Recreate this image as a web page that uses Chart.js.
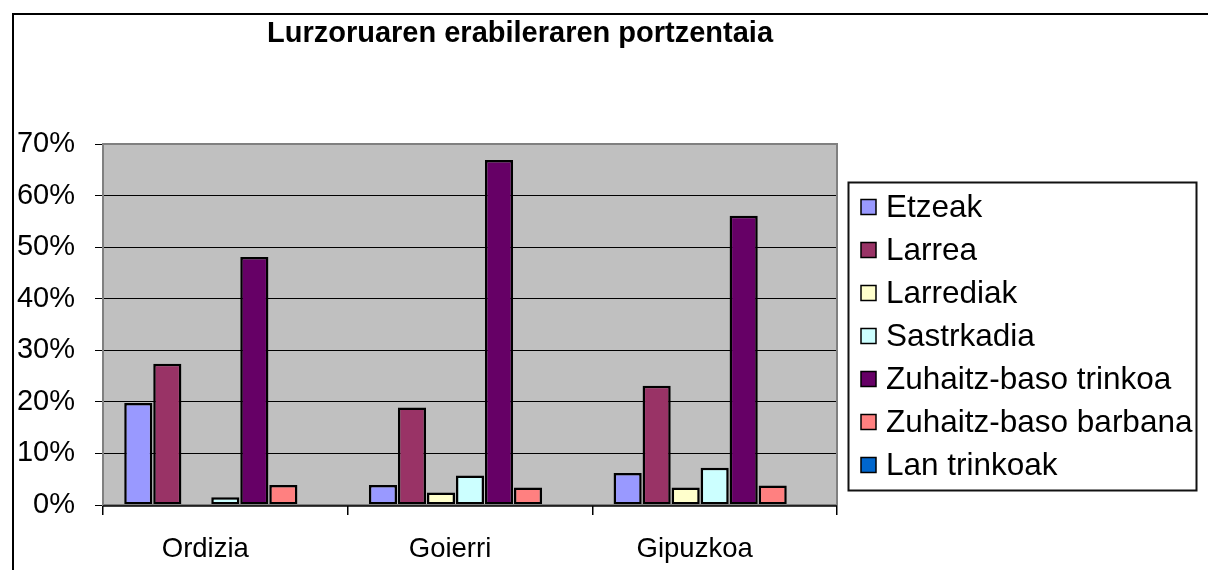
<!DOCTYPE html>
<html>
<head>
<meta charset="utf-8">
<script src="https://cdn.jsdelivr.net/npm/chart.js@4/dist/chart.umd.min.js"></script>
<style>
  html, body { margin: 0; padding: 0; background: #fff; }
  #myChart { display: block; }
</style>
</head>
<body>
<canvas id="myChart" width="1208" height="570"></canvas>
<script>
// data (percent)
const categories = ['Ordizia', 'Goierri', 'Gipuzkoa'];
const seriesNames = ['Etzeak', 'Larrea', 'Larrediak', 'Sastrkadia', 'Zuhaitz-baso trinkoa', 'Zuhaitz-baso barbana', 'Lan trinkoak'];
const etzeak = [19.8, 3.9, 6.2];
const larrea = [27.4, 18.9, 23.1];
const larrediak = [0, 2.4, 3.4];
const sastrkadia = [1.5, 5.7, 7.2];
const trinkoa = [48.1, 66.9, 56.1];
const barbana = [3.9, 3.4, 3.8];
const lanTrinkoak = [0, 0, 0];
const yTicks = [0, 10, 20, 30, 40, 50, 60, 70];
const colors = ['#9999FF', '#993366', '#FFFFCC', '#CCFFFF', '#660066', '#FF8080', '#0066CC'];
const titleText = 'Lurzoruaren erabileraren portzentaia';

const values = [etzeak, larrea, larrediak, sastrkadia, trinkoa, barbana, lanTrinkoak];
const FONT = "'Liberation Sans', Arial, sans-serif";

const datasets = values.map((v, i) => ({
  label: seriesNames[i],
  data: v,
  backgroundColor: colors[i],
  borderColor: '#000',
  borderWidth: 2.5,
  borderSkipped: false,
  categoryPercentage: 0.83,
  barPercentage: 0.97
}));

// gray plot area, outer frame, title and boxed legend
const excelLook = {
  id: 'excelLook',
  beforeDraw(chart) {
    const ctx = chart.ctx;
    const a = chart.chartArea;
    ctx.save();
    ctx.fillStyle = '#C0C0C0';
    ctx.fillRect(a.left, a.top, a.right - a.left, a.bottom - a.top);
    ctx.restore();
  },
  afterDraw(chart) {
    const ctx = chart.ctx;
    const a = chart.chartArea;
    ctx.save();
    // plot border
    ctx.strokeStyle = '#808080';
    ctx.lineWidth = 2;
    ctx.strokeRect(a.left, a.top, a.right - a.left, a.bottom - a.top);
    // x axis line
    ctx.strokeStyle = '#000';
    ctx.lineWidth = 1.5;
    ctx.beginPath();
    ctx.moveTo(a.left, a.bottom + 1);
    ctx.lineTo(a.right, a.bottom + 1);
    ctx.stroke();

    // outer frame (runs off the picture)
    ctx.lineWidth = 2;
    ctx.beginPath();
    ctx.moveTo(13, 600);
    ctx.lineTo(13, 14);
    ctx.lineTo(1300, 14);
    ctx.stroke();

    // title
    ctx.fillStyle = '#000';
    ctx.font = 'bold 29px ' + FONT;
    ctx.textAlign = 'center';
    ctx.textBaseline = 'alphabetic';
    ctx.fillText(titleText, 520, 42);

    // legend
    ctx.strokeStyle = '#111';
    ctx.lineWidth = 2;
    ctx.strokeRect(848.5, 182.5, 348, 308);
    ctx.font = '31.5px ' + FONT;
    ctx.textAlign = 'left';
    ctx.textBaseline = 'middle';
    chart.data.datasets.forEach((ds, i) => {
      const y = 207 + i * 43;
      ctx.fillStyle = ds.backgroundColor;
      ctx.fillRect(861, y - 7.5, 15, 15);
      ctx.lineWidth = 1.5;
      ctx.strokeStyle = '#000';
      ctx.strokeRect(861, y - 7.5, 15, 15);
      ctx.fillStyle = '#000';
      ctx.fillText(ds.label, 886, y + 1);
    });
    ctx.restore();
  }
};

new Chart(document.getElementById('myChart').getContext('2d'), {
  type: 'bar',
  data: { labels: categories, datasets: datasets },
  options: {
    responsive: false,
    animation: false,
    devicePixelRatio: 1,
    layout: { padding: { top: 144, right: 371, bottom: 0, left: 0 } },
    plugins: {
      legend: { display: false },
      title: { display: false },
      tooltip: { enabled: false }
    },
    scales: {
      x: {
        afterFit: (s) => { s.height = 65; },
        grid: { offset: true, drawOnChartArea: false, drawTicks: true, tickLength: 10, color: '#000', lineWidth: 1.5 },
        border: { display: false },
        ticks: { color: '#000', padding: 18, labelOffset: -20, font: { family: FONT, size: 27.5 } }
      },
      y: {
        min: 0,
        max: 70,
        afterFit: (s) => { s.width = 103; },
        afterBuildTicks: (s) => { s.ticks = yTicks.map(v => ({ value: v })); },
        grid: { color: '#000', lineWidth: 1, drawTicks: true, tickLength: 8, tickColor: '#000' },
        border: { display: false },
        ticks: {
          color: '#000',
          padding: 20,
          font: { family: FONT, size: 29 },
          callback: (v) => v + '%'
        }
      }
    }
  },
  plugins: [excelLook]
});
</script>
</body>
</html>
